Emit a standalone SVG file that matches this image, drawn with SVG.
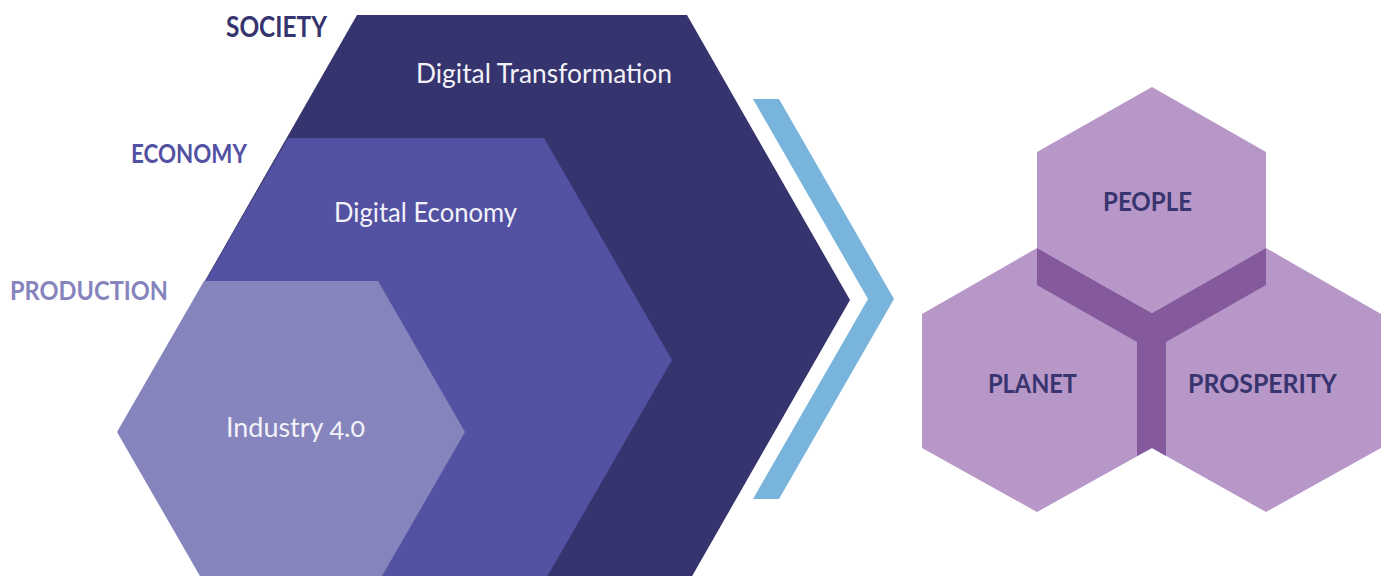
<svg xmlns="http://www.w3.org/2000/svg" width="1386" height="576" viewBox="0 0 1386 576">
  <style>
    .lbl { font-family: Lato, "Liberation Sans", sans-serif; font-weight: 700; }
    .inner { font-family: Lato, "Liberation Sans", sans-serif; font-weight: 400; fill: #F2F2F8; font-size: 27px; font-variant-numeric: oldstyle-nums; }
    .pillar { font-family: Lato, "Liberation Sans", sans-serif; font-weight: 700; fill: #37346F; font-size: 26px; }
    .hexR { fill: #B797C8; }
  </style>
  <rect width="1386" height="576" fill="#FFFFFF"/>

  <g id="digital-transformation">
    <polygon points="194,300 357,15 687,15 850,300 687,585 357,585" fill="#36346E"/>
    <text class="inner" x="416" y="83" textLength="256" lengthAdjust="spacingAndGlyphs">Digital Transformation</text>
  </g>
  <g id="digital-economy">
    <polygon points="160,360 288,138 544,138 672,360 544,582 288,582" fill="#5251A2"/>
    <text class="inner" x="334" y="222" textLength="183" lengthAdjust="spacingAndGlyphs">Digital Economy</text>
  </g>
  <g id="industry">
    <polygon points="117,432 204,281 378,281 465,432 378,583 204,583" fill="#8584BD"/>
    <text class="inner" x="226" y="437" textLength="139" lengthAdjust="spacingAndGlyphs">Industry 4.0</text>
  </g>

  <g id="label-society">
    <text class="lbl" x="226" y="37" font-size="28" fill="#36346E" textLength="101" lengthAdjust="spacingAndGlyphs">SOCIETY</text>
  </g>
  <g id="label-economy">
    <text class="lbl" x="131" y="163" font-size="27" fill="#5251A2" textLength="116" lengthAdjust="spacingAndGlyphs">ECONOMY</text>
  </g>
  <g id="label-production">
    <text class="lbl" x="10" y="300" font-size="27" fill="#8584BD" textLength="158" lengthAdjust="spacingAndGlyphs">PRODUCTION</text>
  </g>

  <g id="connectors">
    <polygon points="753,99 779,99 894,299 779,499 753,499 868,299" fill="#78B4DC"/>
  </g>

  <g id="planet">
    <polygon class="hexR" points="1037,248 1152,314 1152,448 1037,512 922,448 922,314"/>
    <text class="pillar" x="988" y="393" textLength="89" lengthAdjust="spacingAndGlyphs">PLANET</text>
  </g>
  <g id="prosperity">
    <polygon class="hexR" points="1266,248 1381,314 1381,448 1266,512 1152,448 1152,314"/>
    <text class="pillar" x="1188" y="393" textLength="149" lengthAdjust="spacingAndGlyphs">PROSPERITY</text>
  </g>
  <g id="people">
    <polygon class="hexR" points="1152,87 1266,152 1266,248 1152,313 1037,248 1037,152"/>
    <polygon points="1037,248 1152,313 1266,248 1266,285 1166,342 1166,456 1152,448 1137,456 1137,342 1037,285" fill="#845A9C"/>
    <text class="pillar" x="1103" y="211" textLength="89" lengthAdjust="spacingAndGlyphs">PEOPLE</text>
  </g>
</svg>
